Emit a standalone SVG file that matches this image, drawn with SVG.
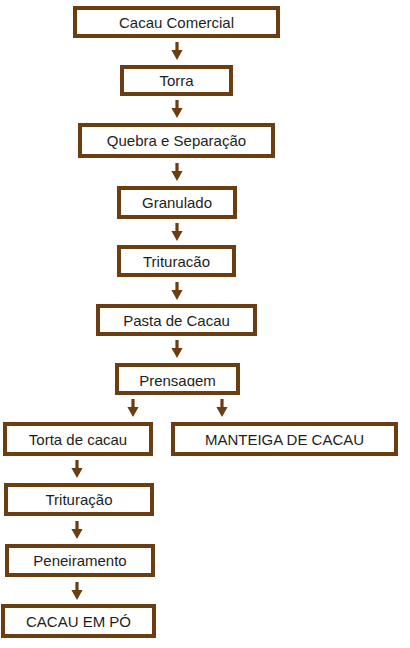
<svg xmlns="http://www.w3.org/2000/svg" xmlns:xlink="http://www.w3.org/1999/xlink" width="410" height="648" viewBox="0 0 410 648">
<style>
.box{fill:#fff;stroke:#6b3e12;stroke-width:4}
.t{font-family:"Liberation Sans",Arial,sans-serif;font-size:15px;fill:#1e1e1e;text-anchor:middle}
.arr{fill:#6b3e12}
</style>
<defs>
<path id="a" d="M-1.6,0 H1.6 V8 H5.6 L0,18 L-5.6,8 H-1.6 Z"/>
<clipPath id="cp"><rect x="117" y="365" width="121" height="21.5"/></clipPath>
</defs>
<rect width="410" height="648" fill="#fff"/>
<g id="connectors" class="arr">
<use xlink:href="#a" x="177" y="42"/>
<use xlink:href="#a" x="177" y="100"/>
<use xlink:href="#a" x="177" y="163"/>
<use xlink:href="#a" x="177" y="223"/>
<use xlink:href="#a" x="177" y="282"/>
<use xlink:href="#a" x="177" y="340"/>
<use xlink:href="#a" x="133" y="399"/>
<use xlink:href="#a" x="222" y="399"/>
<use xlink:href="#a" x="77" y="460"/>
<use xlink:href="#a" x="77" y="521"/>
<use xlink:href="#a" x="77" y="582"/>
</g>
<g id="n1"><rect class="box" x="75" y="8" width="203" height="28"/><text class="t" x="176.5" y="27.5">Cacau Comercial</text></g>
<g id="n2"><rect class="box" x="122" y="67" width="109" height="27"/><text class="t" x="176.5" y="86">Torra</text></g>
<g id="n3"><rect class="box" x="80" y="125" width="193" height="31"/><text class="t" x="176.5" y="146">Quebra e Separação</text></g>
<g id="n4"><rect class="box" x="119" y="188" width="116" height="29"/><text class="t" x="177" y="208">Granulado</text></g>
<g id="n5"><rect class="box" x="119" y="247" width="115" height="28"/><text class="t" x="176.5" y="266.5">Trituracão</text></g>
<g id="n6"><rect class="box" x="98" y="306" width="157" height="28"/><text class="t" x="176.5" y="325.5">Pasta de Cacau</text></g>
<g id="n7"><rect class="box" x="117" y="365" width="121" height="28"/><text class="t" x="177.5" y="386" clip-path="url(#cp)">Prensagem</text></g>
<g id="n8"><rect class="box" x="5" y="424" width="146" height="30"/><text class="t" x="78" y="444.5">Torta de cacau</text></g>
<g id="n9"><rect class="box" x="173" y="424" width="223" height="30"/><text class="t" x="284.5" y="444.5">MANTEIGA DE CACAU</text></g>
<g id="n10"><rect class="box" x="6" y="485" width="146" height="29"/><text class="t" x="79" y="505">Trituração</text></g>
<g id="n11"><rect class="box" x="7" y="546" width="146" height="29"/><text class="t" x="80" y="566">Peneiramento</text></g>
<g id="n12"><rect class="box" x="3" y="606" width="151" height="30"/><text class="t" x="78.5" y="626.5">CACAU EM PÓ</text></g>
</svg>
